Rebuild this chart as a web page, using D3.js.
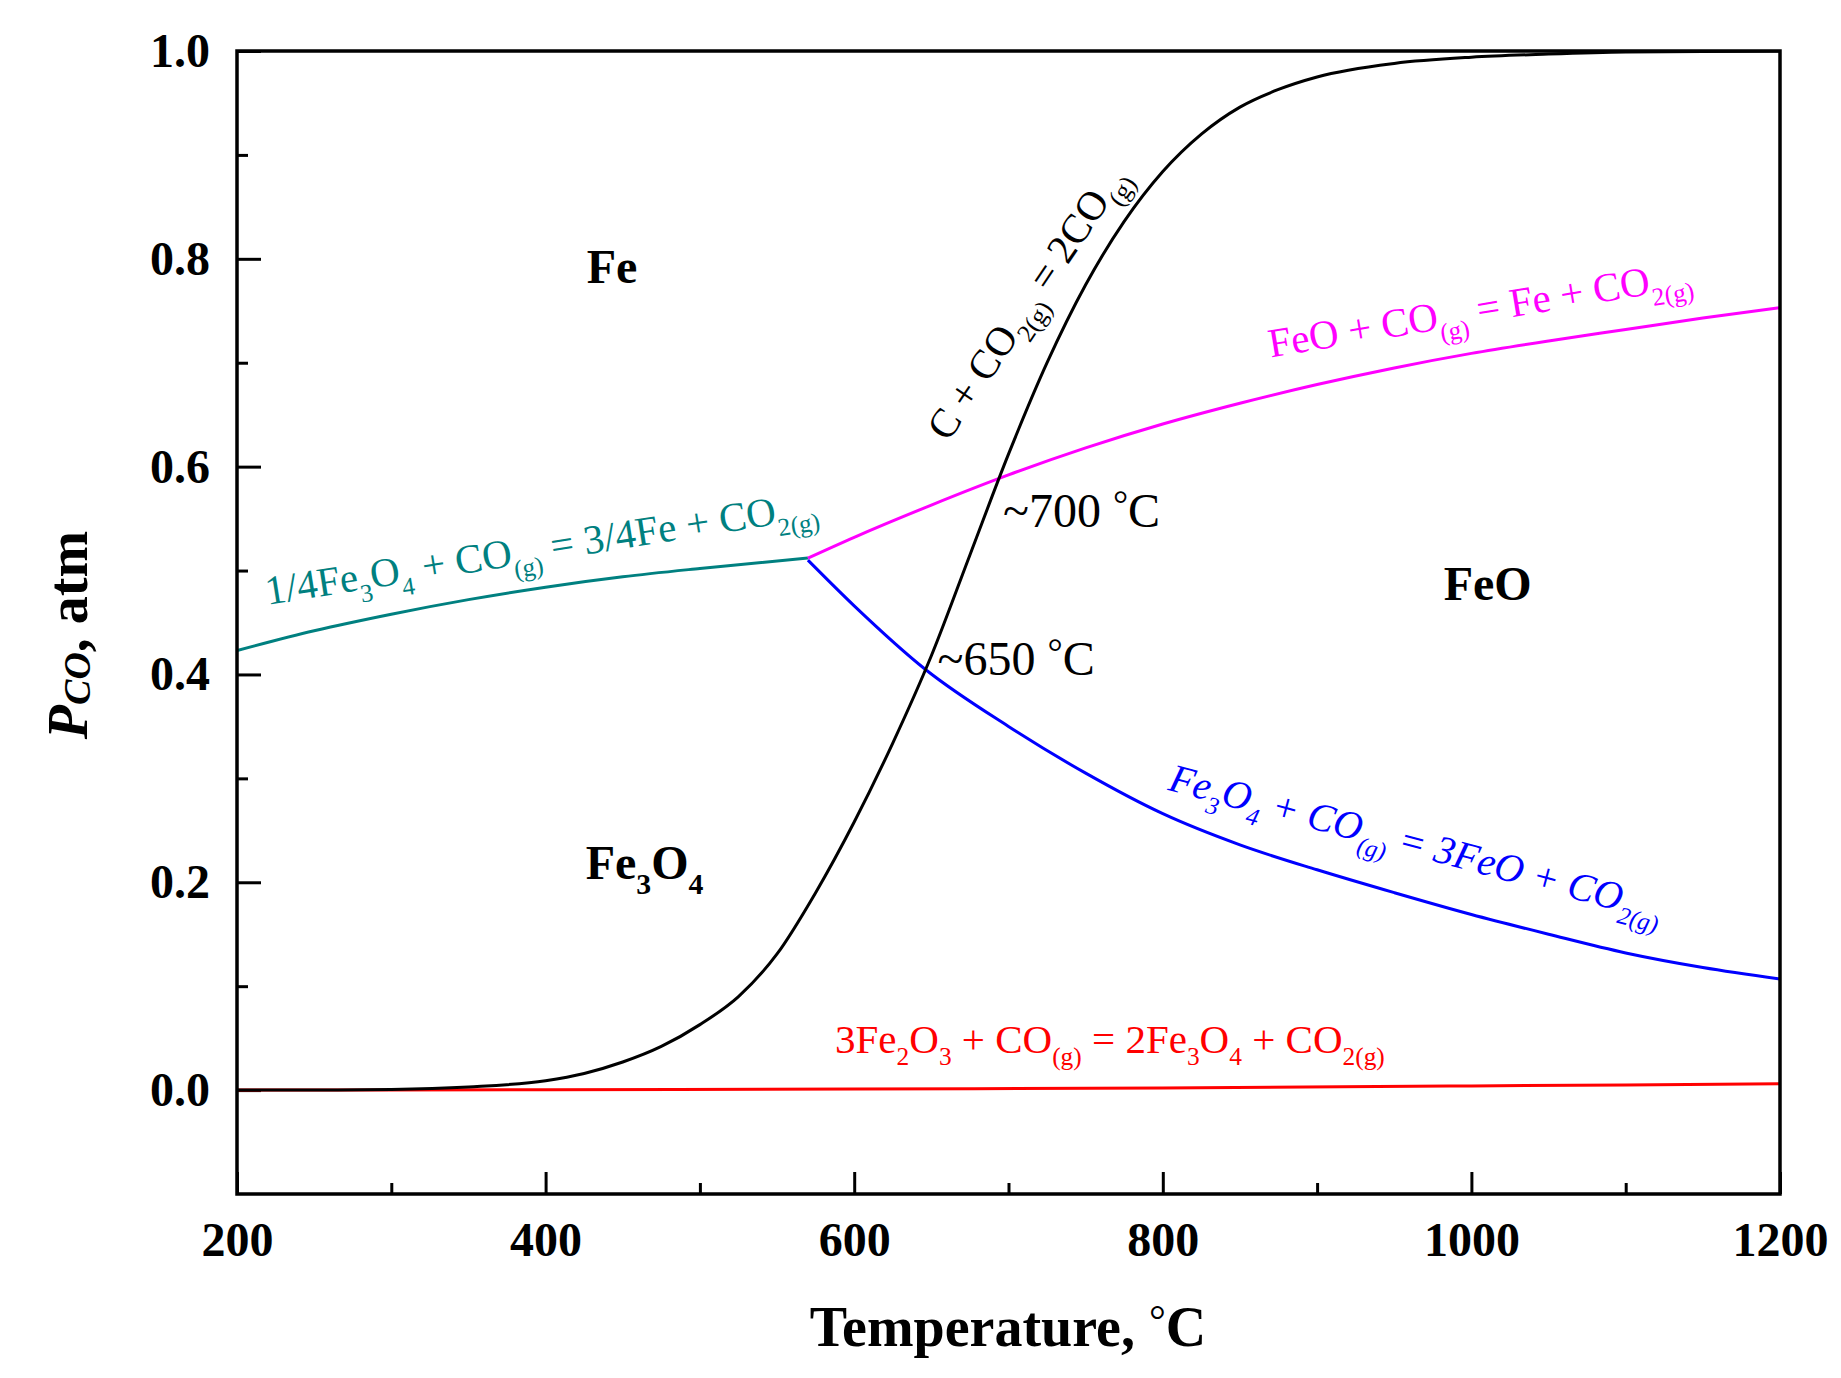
<!DOCTYPE html>
<html>
<head>
<meta charset="utf-8">
<script src="https://cdn.jsdelivr.net/npm/d3@7"></script>
<style>
  body { margin: 0; background: #fff; }
  text { font-family: "Liberation Serif", "Times New Roman", serif; white-space: pre; }
</style>
</head>
<body>
<script>
const SERIF = "Liberation Serif, Times New Roman, serif"

// Tick values
const tempTicks = [200, 400, 600, 800, 1000, 1200]
const tempMinor = [300, 500, 700, 900, 1100]
const pcoTicks = [0, 0.2, 0.4, 0.6, 0.8, 1.0]
const pcoMinor = [0.1, 0.3, 0.5, 0.7, 0.9]

// Equilibrium curves, [temperature, Pco]
const boudouard = [[200, 0], [250, 0.0001], [300, 0.0006], [350, 0.003], [400, 0.009],
    [425, 0.016], [450, 0.027], [475, 0.042], [500, 0.063], [525, 0.09], [550, 0.131],
    [575, 0.19], [600, 0.258], [625, 0.334], [650, 0.418], [675, 0.515], [700, 0.612],
    [725, 0.7], [750, 0.775], [775, 0.836], [800, 0.884], [825, 0.92], [850, 0.946],
    [875, 0.963], [900, 0.975], [950, 0.988], [1000, 0.994], [1050, 0.997], [1100, 0.999],
    [1200, 1.0]]
const magnetiteToIron = [[200, 0.423], [250, 0.442], [300, 0.458], [350, 0.472], [400, 0.484],
    [450, 0.494], [500, 0.502], [570, 0.512]]
const wustiteToIron = [[570, 0.512], [600, 0.532], [650, 0.563], [700, 0.592], [750, 0.618],
    [800, 0.641], [850, 0.661], [900, 0.679], [950, 0.695], [1000, 0.709], [1050, 0.721],
    [1100, 0.732], [1150, 0.743], [1200, 0.753]]
const magnetiteToWustite = [[570, 0.51], [600, 0.466], [646, 0.405], [700, 0.35], [750, 0.305],
    [800, 0.266], [850, 0.236], [900, 0.212], [950, 0.19], [1000, 0.169], [1050, 0.15],
    [1100, 0.132], [1150, 0.118], [1200, 0.107]]
const hematiteToMagnetite = [[200, 0], [400, 0.0003], [600, 0.001], [800, 0.002], [1000, 0.004],
    [1200, 0.006]]

// Reaction labels: [text, 0 normal / 1 subscript]
const tealParts = [["1/4Fe", 0], ["3", 1], ["O", 0], ["4", 1], [" + CO", 0], ["(g)", 1],
    [" = 3/4Fe + CO", 0], ["2(g)", 1]]
const magentaParts = [["FeO + CO", 0], ["(g)", 1], [" = Fe + CO", 0], ["2(g)", 1]]
const blackParts = [["C + CO", 0], ["2(g)", 1], [" = 2CO", 0], ["(g)", 1]]
const blueParts = [["Fe", 0], ["3", 1], ["O", 0], ["4", 1], [" + CO", 0], ["(g)", 1],
    [" = 3FeO + CO", 0], ["2(g)", 1]]
const redParts = [["3Fe", 0], ["2", 1], ["O", 0], ["3", 1], [" + CO", 0], ["(g)", 1],
    [" = 2Fe", 0], ["3", 1], ["O", 0], ["4", 1], [" + CO", 0], ["2(g)", 1]]

const W = 1841, H = 1378
const plot = { left: 237, right: 1780, top: 51, bottom: 1194 }

const svg = d3.select("body").append("svg")
    .attr("width", W)
    .attr("height", H)
    .attr("font-family", SERIF)

const x = d3.scaleLinear().domain([200, 1200]).range([plot.left, plot.right])
const y = d3.scaleLinear().domain([-0.1, 1.0]).range([plot.bottom, plot.top])

// Clip for the curves
svg.append("defs").append("clipPath").attr("id", "clip")
    .append("rect")
    .attr("x", plot.left).attr("y", plot.top)
    .attr("width", plot.right - plot.left).attr("height", plot.bottom - plot.top)

// Axes (ticks point inward)
const styleAxis = g => {
    g.attr("font-family", SERIF)
    g.select(".domain").remove()
    g.selectAll(".tick line").attr("stroke", "#000").attr("stroke-width", 3)
    g.selectAll(".tick text")
        .attr("fill", "#000")
        .attr("font-size", 48)
        .attr("font-weight", "bold")
        .attr("font-family", SERIF)
}

svg.append("g")
    .attr("transform", `translate(0,${plot.bottom})`)
    .call(d3.axisBottom(x).tickValues(tempTicks).tickSizeInner(-22).tickSizeOuter(0)
        .tickPadding(28).tickFormat(d3.format("d")))
    .call(styleAxis)

svg.append("g")
    .attr("transform", `translate(0,${plot.bottom})`)
    .call(d3.axisBottom(x).tickValues(tempMinor).tickSizeInner(-11).tickSizeOuter(0).tickFormat(""))
    .call(styleAxis)

svg.append("g")
    .attr("transform", `translate(${plot.left},0)`)
    .call(d3.axisLeft(y).tickValues(pcoTicks).tickSizeInner(-24).tickSizeOuter(0)
        .tickPadding(27).tickFormat(d3.format(".1f")))
    .call(styleAxis)

svg.append("g")
    .attr("transform", `translate(${plot.left},0)`)
    .call(d3.axisLeft(y).tickValues(pcoMinor).tickSizeInner(-11).tickSizeOuter(0).tickFormat(""))
    .call(styleAxis)

// Curves
const line = d3.line()
    .x(d => x(d[0]))
    .y(d => y(d[1]))
    .curve(d3.curveMonotoneX)

const curves = svg.append("g").attr("clip-path", "url(#clip)")
const series = [
    [hematiteToMagnetite, "#ff0000"],
    [magnetiteToIron, "#008080"],
    [wustiteToIron, "#ff00ff"],
    [magnetiteToWustite, "#0000ff"],
    [boudouard, "#000000"],
]
series.forEach(([data, color]) => {
    curves.append("path")
        .datum(data)
        .attr("fill", "none")
        .attr("stroke", color)
        .attr("stroke-width", 3)
        .attr("d", line)
})

// Frame
svg.append("rect")
    .attr("x", plot.left).attr("y", plot.top)
    .attr("width", plot.right - plot.left).attr("height", plot.bottom - plot.top)
    .attr("fill", "none")
    .attr("stroke", "#000")
    .attr("stroke-width", 3.5)

// Text with subscripts
const formula = (parts, t, p, angle, color, size, italic) => {
    const txt = svg.append("text")
        .attr("transform", `translate(${x(t)},${y(p)}) rotate(${angle})`)
        .attr("fill", color)
        .attr("font-family", SERIF)
        .attr("font-size", size)
        .attr("font-style", italic ? "italic" : "normal")
    const subShift = size * 0.3
    let shift = 0
    parts.forEach(([s, sub]) => {
        const target = sub ? subShift : 0
        txt.append("tspan")
            .attr("dy", target - shift)
            .attr("font-size", sub ? size * 0.62 : size)
            .text(s)
        shift = target
    })
    return txt
}

formula(tealParts, 219.8, 0.467, -9, "#008080", 41, false)
formula(magentaParts, 870, 0.705, -9.5, "#ff00ff", 41, false)
formula(blackParts, 660.8, 0.623, -56, "#000000", 41, false)
formula(blueParts, 802.7, 0.289, 15, "#0000ff", 40, true)
formula(redParts, 587.6, 0.036, 0, "#ff0000", 41, false)

// Phase fields
formula([["Fe", 0]], 426.6, 0.777, 0, "#000", 48).attr("font-weight", "bold")
formula([["FeO", 0]], 982, 0.472, 0, "#000", 48).attr("font-weight", "bold")
formula([["Fe", 0], ["3", 1], ["O", 0], ["4", 1]], 426, 0.203, 0, "#000", 48).attr("font-weight", "bold")

// Temperature markers
const degreeLabel = (value, t, p) => {
    const txt = svg.append("text")
        .attr("x", x(t)).attr("y", y(p))
        .attr("font-family", SERIF)
        .attr("font-size", 48)
        .attr("fill", "#000")
    txt.append("tspan").text(`~${value} `)
    txt.append("tspan").attr("dy", -10).attr("font-size", 38).text("°")
    txt.append("tspan").attr("dy", 10).text("C")
}
degreeLabel(700, 696.4, 0.542)
degreeLabel(650, 654, 0.399)

// Axis titles
const xTitle = svg.append("text")
    .attr("x", 1008).attr("y", 1346)
    .attr("text-anchor", "middle")
    .attr("font-family", SERIF)
    .attr("font-size", 56)
    .attr("font-weight", "bold")
xTitle.append("tspan").text("Temperature, ")
xTitle.append("tspan").attr("dy", -12).attr("font-size", 42).attr("font-weight", "normal").text("°")
xTitle.append("tspan").attr("dy", 12).text("C")

const yTitle = svg.append("text")
    .attr("transform", "translate(87,635) rotate(-90)")
    .attr("text-anchor", "middle")
    .attr("font-family", SERIF)
    .attr("font-size", 56)
    .attr("font-weight", "bold")
yTitle.append("tspan").attr("font-style", "italic").text("P")
yTitle.append("tspan").attr("font-style", "italic").attr("font-size", 38).attr("dy", 3).text("CO")
yTitle.append("tspan").attr("dy", -3).text(", atm")
</script>
</body>
</html>
